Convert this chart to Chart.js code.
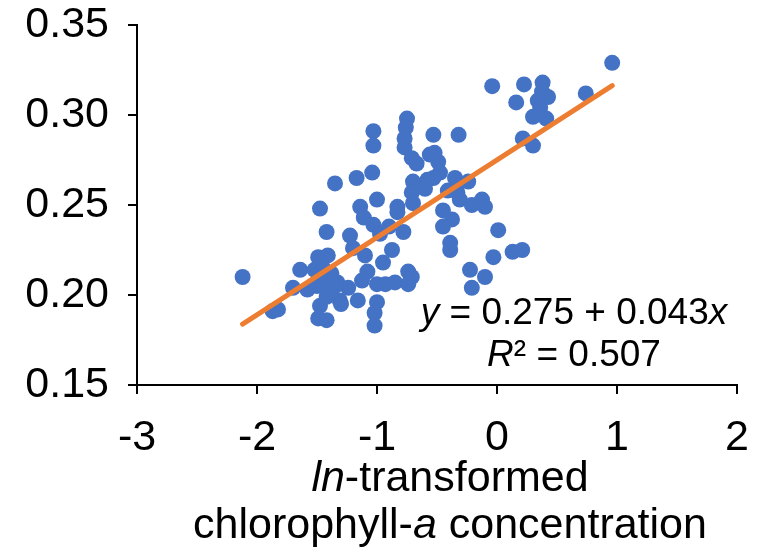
<!DOCTYPE html>
<html>
<head>
<meta charset="utf-8">
<script src="https://cdn.jsdelivr.net/npm/chart.js@4.4.1/dist/chart.umd.min.js"></script>
<style>
  html, body { margin:0; padding:0; background:#fff; }
  #wrap { width:769px; height:549px; }
</style>
</head>
<body>
<div id="wrap"><canvas id="c" width="769" height="549"></canvas></div>
<script>
// ln(chl-a) vs. response, one entry per sample
const X_VALS = [
  -0.04, 0.225, 0.16, 0.38, 0.375, 0.425, 0.34, 0.36, 0.30, 0.41, 0.74, 0.96, 0.215, 0.30,
  -0.32, -0.35, -0.24, -0.33, -0.31, -0.21, -0.125, -0.10, -0.45, -0.375, -0.45, 0.01,
  -0.39, -0.39, 0.13, 0.21, -0.03, -0.225, -0.10, -0.21,
  -0.75, -0.76, -0.77, -0.77, -1.03, -1.03, -0.53, -0.52, -0.49, -0.56, -0.71, -0.67,
  -0.475, -0.70, -0.58, -0.53, -0.71, -0.60, -0.70, -1.04, -1.17, -1.35, -1.0, -1.14,
  -0.83, -0.41,
  -1.11, -1.03, -1.225, -0.975, -0.78, -1.2, -1.1, -0.875, -0.95, -1.08, -0.74, -0.71,
  -1.0, -0.93, -0.85, -0.74, -1.24, -1.16, -1.0, -1.02, -1.02, -1.31,
  -2.12, -1.475, -1.42, -1.64, -1.49, -1.41, -1.52, -1.70, -1.58, -1.45, -1.33, -1.39,
  -1.475, -1.49, -1.42, -1.87, -1.825, -1.125,
  -1.45, -1.38, -1.35, -1.42, -1.50, -1.30, -0.83, -0.90
];
const Y_VALS = [
  0.316, 0.317, 0.307, 0.318, 0.313, 0.310, 0.308, 0.304, 0.299, 0.298, 0.312, 0.329, 0.287, 0.283,
  0.289, 0.265, 0.263, 0.257, 0.253, 0.250, 0.253, 0.249, 0.247, 0.242, 0.238, 0.236,
  0.229, 0.225, 0.224, 0.225, 0.221, 0.214, 0.210, 0.204,
  0.298, 0.293, 0.287, 0.282, 0.291, 0.283, 0.289, 0.279, 0.274, 0.278, 0.276, 0.273,
  0.268, 0.263, 0.264, 0.265, 0.257, 0.259, 0.251, 0.268, 0.265, 0.262, 0.253, 0.249,
  0.249, 0.258,
  0.243, 0.239, 0.233, 0.234, 0.235, 0.226, 0.222, 0.225, 0.218, 0.213, 0.213, 0.210,
  0.206, 0.206, 0.207, 0.206, 0.204, 0.197, 0.196, 0.190, 0.183, 0.197,
  0.210, 0.248, 0.235, 0.214, 0.221, 0.222, 0.214, 0.204, 0.203, 0.207, 0.207, 0.201,
  0.194, 0.187, 0.186, 0.191, 0.192, 0.208,
  0.215, 0.212, 0.205, 0.199, 0.205, 0.195, 0.246, 0.238
];

const X_TICKS = [-3, -2, -1, 0, 1, 2];
const Y_TICKS = [0.15, 0.20, 0.25, 0.30, 0.35];

// least-squares fit, as printed on the plot
const FIT_A = 0.275;
const FIT_B = 0.043;
const FIT_R2 = 0.507;
const FIT_X = [-2.12, 0.96];

const FONT = '"Liberation Sans", Arial, sans-serif';
const BLUE = '#4472C4';
const ORANGE = '#ED7D31';

const points = X_VALS.map((x, i) => ({ x, y: Y_VALS[i] }));
const fitLine = FIT_X.map(x => ({ x, y: FIT_A + FIT_B * x }));

// draws a line of text made of [string, italic] runs, centred on cx
function drawRich(ctx, parts, cx, baseline, size){
  const fonts = parts.map(p => `${p[1] ? 'italic ' : ''}${size}px ${FONT}`);
  let total = 0;
  const widths = parts.map((p, i) => {
    ctx.font = fonts[i];
    const w = ctx.measureText(p[0]).width;
    total += w;
    return w;
  });
  let x = cx - total / 2;
  parts.forEach((p, i) => {
    ctx.font = fonts[i];
    ctx.fillText(p[0], x, baseline);
    x += widths[i];
  });
}

const labelsPlugin = {
  id: 'labels',
  afterDraw(chart){
    const ctx = chart.ctx;
    ctx.save();
    ctx.fillStyle = '#000';
    ctx.textBaseline = 'alphabetic';
    ctx.textAlign = 'left';
    // regression equation
    drawRich(ctx, [['y', true], [' = 0.275 + 0.043', false], ['x', true]], 574, 324, 37);
    drawRich(ctx, [['R', true], ['\u00B2 = ' + FIT_R2.toFixed(3), false]], 574, 366, 37);
    // x-axis title, two lines
    drawRich(ctx, [['ln', true], ['-transformed', false]], 450, 491, 43);
    drawRich(ctx, [['chlorophyll-', false], ['a', true], [' concentration', false]], 450, 538, 43);
    ctx.restore();
  }
};

// keep the plot box fixed regardless of label overhang
function fixPad(s){
  s.paddingTop = 0; s.paddingBottom = 0;
  s.paddingLeft = 0; s.paddingRight = 0;
}

new Chart(document.getElementById('c'), {
  type: 'scatter',
  data: {
    datasets: [
      {
        type: 'line',
        data: fitLine,
        borderColor: ORANGE,
        borderWidth: 5,
        borderCapStyle: 'round',
        pointRadius: 0,
        fill: false,
        order: 0,
      },
      {
        data: points,
        backgroundColor: BLUE,
        borderColor: BLUE,
        borderWidth: 0,
        pointRadius: 8,
        pointHoverRadius: 8,
        order: 1,
      },
    ],
  },
  options: {
    responsive: false,
    animation: false,
    devicePixelRatio: 1,
    layout: { padding: { top: 25, right: 32, bottom: 0, left: 0 } },
    plugins: { legend: { display: false }, tooltip: { enabled: false } },
    events: [],
    scales: {
      x: {
        type: 'linear',
        min: X_TICKS[0],
        max: X_TICKS[X_TICKS.length - 1],
        afterBuildTicks: s => { s.ticks = X_TICKS.map(v => ({ value: v })); },
        afterFit: s => { s.height = 164; fixPad(s); },
        grid: { drawOnChartArea: false, color: '#000', lineWidth: 2, tickLength: 9 },
        border: { color: '#000', width: 2 },
        ticks: {
          color: '#000',
          font: { family: FONT, size: 43 },
          padding: 18,
          maxRotation: 0,
          callback: v => String(v),
        },
      },
      y: {
        type: 'linear',
        min: Y_TICKS[0],
        max: Y_TICKS[Y_TICKS.length - 1],
        afterBuildTicks: s => { s.ticks = Y_TICKS.map(v => ({ value: v })); },
        afterFit: s => { s.width = 137; fixPad(s); },
        grid: { drawOnChartArea: false, color: '#000', lineWidth: 2, tickLength: 9 },
        border: { color: '#000', width: 2 },
        ticks: {
          color: '#000',
          font: { family: FONT, size: 43 },
          padding: 19,
          callback: v => Number(v).toFixed(2),
        },
      },
    },
  },
  plugins: [labelsPlugin],
});
</script>
</body>
</html>
